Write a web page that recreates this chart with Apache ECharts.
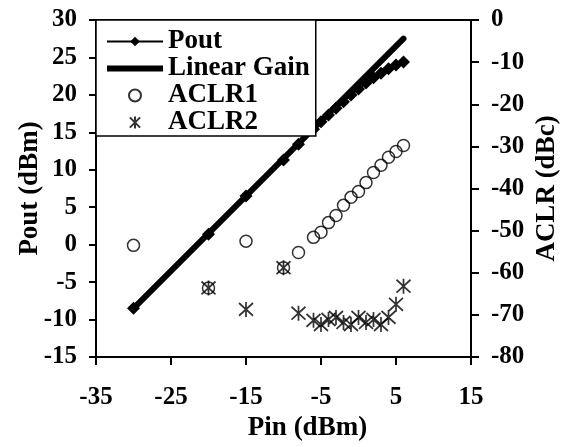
<!DOCTYPE html>
<html>
<head>
<meta charset="utf-8">
<script src="https://cdn.jsdelivr.net/npm/echarts@6/dist/echarts.min.js"></script>
<style>
  html, body { margin: 0; padding: 0; background: #fff; }
  #chart { width: 569px; height: 447px; }
</style>
</head>
<body>
<div id="chart"></div>
<script>
// Pout sweep (dBm in / dBm out)
var pinPout = [-30, -20, -15, -10, -8, -6, -5, -4, -3, -2, -1, 0, 1, 2, 3, 4, 5, 6]
var pout = [-8.5, 1.4, 6.5, 11.3, 13.4, 15.4, 16.4, 17.3, 18.2, 19.1, 20.0, 20.8, 21.6, 22.3, 22.9, 23.5, 24.0, 24.4]
// linear gain reference
var pinLinear = [-30, 6]
var linearGain = [-8.5, 27.5]
// ACLR (dBc)
var pinAclr = [-30, -20, -15, -10, -8, -6, -5, -4, -3, -2, -1, 0, 1, 2, 3, 4, 5, 6]
var aclr1 = [-53.5, -63.6, -52.5, -58.8, -55.2, -51.6, -50.4, -48.1, -46.4, -44.0, -42.1, -40.7, -38.6, -36.2, -34.5, -32.6, -31.2, -29.8]
var aclr2 = [null, -63.6, -68.7, -58.8, -69.6, -71.3, -72.3, -71.1, -70.6, -71.8, -72.3, -70.6, -71.8, -71.1, -72.3, -70.6, -67.5, -63.2]

function pairs(xs, ys) {
  var out = []
  for (var i = 0; i < xs.length; i++) {
    if (ys[i] !== null) out.push([xs[i], ys[i]])
  }
  return out
}

var font = 'Liberation Serif, Times New Roman, serif'
var txt = { fontFamily: font, fontWeight: 'bold', fontSize: 25, color: '#000' }
var nameTxt = { fontFamily: font, fontWeight: 'bold', fontSize: 27, color: '#000' }
var asterisk = 'path://M0,1L12,13M12,1L0,13M6,0L6,14'

var chart = echarts.init(document.getElementById('chart'))

var option = {
  animation: false,
  backgroundColor: '#fff',
  grid: {
    left: 96, right: 97, top: 20, bottom: 89,
    show: true, borderColor: '#000', borderWidth: 2, backgroundColor: 'transparent'
  },
  legend: {
    orient: 'vertical',
    left: 96, top: 20,
    data: [
      { name: 'Pout' },
      { name: 'Linear Gain', icon: 'path://M0,0L56,0L56,6L0,6Z' },
      { name: 'ACLR1' },
      { name: 'ACLR2' }
    ],
    itemWidth: 56, itemHeight: 12, itemGap: 0,
    padding: [8, 6, 0, 10],
    backgroundColor: '#fff',
    borderColor: '#000', borderWidth: 1.5,
    textStyle: { fontFamily: font, fontWeight: 'bold', fontSize: 27, color: '#000', lineHeight: 24 }
  },
  xAxis: {
    type: 'value',
    min: -35, max: 15, interval: 10,
    name: 'Pin (dBm)',
    nameLocation: 'middle',
    nameGap: 58,
    nameMoveOverlap: false,
    nameTextStyle: Object.assign({}, nameTxt, { padding: [0, 0, 0, 48] }),
    axisLine: { onZero: false, lineStyle: { color: '#000', width: 2 } },
    axisTick: { inside: false, length: 8, lineStyle: { color: '#000', width: 2 } },
    axisLabel: Object.assign({ margin: 28 }, txt),
    splitLine: { show: false }
  },
  yAxis: [
    {
      type: 'value',
      position: 'left',
      min: -15, max: 30, interval: 5,
      name: 'Pout (dBm)',
      nameLocation: 'middle',
      nameGap: 52,
      nameMoveOverlap: false,
      nameRotate: 90,
      nameTextStyle: nameTxt,
      axisLine: { show: true, onZero: false, lineStyle: { color: '#000', width: 2 } },
      axisTick: { show: true, inside: false, length: 7, lineStyle: { color: '#000', width: 2 } },
      axisLabel: Object.assign({ margin: 19 }, txt),
      splitLine: { show: false }
    },
    {
      type: 'value',
      position: 'right',
      min: -80, max: 0, interval: 10,
      name: 'ACLR (dBc)',
      nameLocation: 'middle',
      nameGap: 63,
      nameMoveOverlap: false,
      nameRotate: 90,
      nameTextStyle: nameTxt,
      axisLine: { show: true, onZero: false, lineStyle: { color: '#000', width: 2 } },
      axisTick: { show: true, inside: false, length: 8, lineStyle: { color: '#000', width: 2 } },
      axisLabel: Object.assign({ margin: 20 }, txt),
      splitLine: { show: false }
    }
  ],
  series: [
    {
      name: 'Pout',
      type: 'line',
      yAxisIndex: 0,
      data: pairs(pinPout, pout),
      symbol: 'diamond',
      symbolSize: 13,
      lineStyle: { color: '#000', width: 2 },
      itemStyle: { color: '#000' },
      z: 3
    },
    {
      name: 'Linear Gain',
      type: 'line',
      yAxisIndex: 0,
      data: pairs(pinLinear, linearGain),
      symbol: 'none',
      lineStyle: { color: '#000', width: 6, cap: 'round' },
      itemStyle: { color: '#000' },
      z: 2
    },
    {
      name: 'ACLR1',
      type: 'scatter',
      yAxisIndex: 1,
      data: pairs(pinAclr, aclr1),
      symbol: 'circle',
      symbolSize: 12,
      itemStyle: { color: 'transparent', borderColor: '#000', borderWidth: 1.5 }
    },
    {
      name: 'ACLR2',
      type: 'scatter',
      yAxisIndex: 1,
      data: pairs(pinAclr, aclr2),
      symbol: asterisk,
      symbolSize: [14, 15],
      itemStyle: { color: '#000', borderColor: '#000', borderWidth: 1.8 }
    }
  ]
}

chart.setOption(option)
</script>
</body>
</html>
